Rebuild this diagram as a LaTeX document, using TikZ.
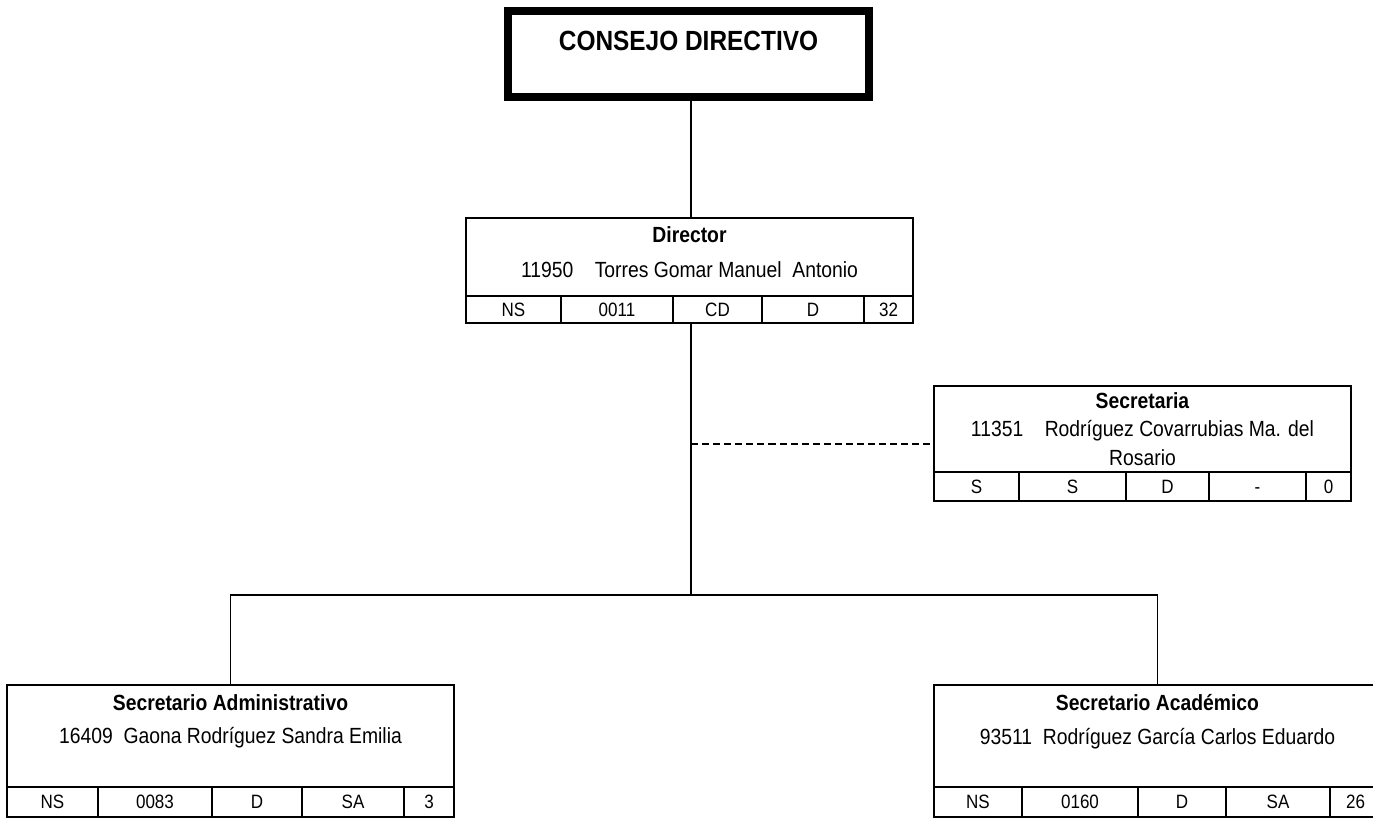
\documentclass[tikz,border=0pt]{standalone}
\usepackage{fontspec}
\setmainfont{Liberation Sans}[FakeStretch=0.88]
\usetikzlibrary{positioning}
\newcommand{\pxu}{0.02cm}

\tikzset{
  linea/.style={line width=1.1pt},
  consejo/.style={draw, line width=4pt, inner sep=0pt, minimum width=361*\pxu,
    minimum height=86*\pxu, font=\fontsize{15.8}{20}\selectfont\bfseries, text depth=15.5pt},
  puesto/.style 2 args={draw, linea, align=center, inner sep=0pt, outer sep=0pt,
    anchor=north west, minimum width=#1*\pxu, minimum height=#2*\pxu,
    font=\fontsize{12.5}{20.4}\selectfont},
  celda/.style 2 args={draw, linea, inner sep=0pt, outer sep=0pt,
    minimum width=#1*\pxu, minimum height=#2*\pxu,
    font=\fontsize{11}{12}\selectfont, text height=7.9pt, text depth=0pt}
}

\begin{document}
\begin{tikzpicture}[x=0.02cm, y=-0.02cm]
\clip (0,0) rectangle (1373,821);

% Consejo Directivo
\node[consejo] (consejo) at (688.5,54) {CONSEJO DIRECTIVO};

% Director
\node[puesto={447}{78}, text depth=5.6pt] (dir) at (466,218)
  {\textbf{Director}\\11950\ \ \ \ Torres Gomar Manuel\ \ Antonio};
\node[celda={95}{27}, below right=0pt of dir.south west] (dir1) {NS};
\node[celda={112}{27}, right=0pt of dir1] (dir2) {0011};
\node[celda={89}{27}, right=0pt of dir2] (dir3) {CD};
\node[celda={102}{27}, right=0pt of dir3] (dir4) {D};
\node[celda={49}{27}, right=0pt of dir4] (dir5) {32};

% Secretaria
\node[puesto={417}{86}, font=\fontsize{12.5}{16.2}\selectfont, text depth=0pt] (sec) at (934,386)
  {\textbf{Secretaria}\\11351\ \ \ \ Rodríguez Covarrubias Ma. del\\Rosario};
\node[celda={85}{29}, below right=0pt of sec.south west] (sec1) {S};
\node[celda={107}{29}, right=0pt of sec1] (sec2) {S};
\node[celda={83}{29}, right=0pt of sec2] (sec3) {D};
\node[celda={97}{29}, right=0pt of sec3] (sec4) {-};
\node[celda={45}{29}, right=0pt of sec4] (sec5) {0};

% Secretario Administrativo
\node[puesto={447}{102}, font=\fontsize{12.5}{19.3}\selectfont, text depth=19.3pt] (adm) at (7,685)
  {\textbf{Secretario Administrativo}\\16409\ \ Gaona Rodríguez Sandra Emilia};
\node[celda={91}{30}, below right=0pt of adm.south west] (adm1) {NS};
\node[celda={114}{30}, right=0pt of adm1] (adm2) {0083};
\node[celda={90}{30}, right=0pt of adm2] (adm3) {D};
\node[celda={102}{30}, right=0pt of adm3] (adm4) {SA};
\node[celda={50}{30}, right=0pt of adm4] (adm5) {3};

% Secretario Academico
\node[puesto={447}{102}, font=\fontsize{12.5}{19.3}\selectfont, text depth=19.3pt] (aca) at (934,685)
  {\textbf{Secretario Académico}\\93511\ \ Rodríguez García Carlos Eduardo};
\node[celda={88}{30}, below right=0pt of aca.south west] (aca1) {NS};
\node[celda={116}{30}, right=0pt of aca1] (aca2) {0160};
\node[celda={88}{30}, right=0pt of aca2] (aca3) {D};
\node[celda={104}{30}, right=0pt of aca3] (aca4) {SA};
\node[celda={51}{30}, right=0pt of aca4] (aca5) {26};

% lineas de mando
\coordinate (rama) at (691,595);
\coordinate (apoyo) at (691,444);
\draw[linea] (consejo.south -| rama) -- (dir.north -| rama);
\draw[linea] (dir3.south -| rama) -- (rama);
\draw[linea] (adm.north) |- (rama) -| (aca.north);
\draw[linea, dash pattern=on 4pt off 2.3pt] (apoyo) -- (apoyo -| sec.west);
\end{tikzpicture}
\end{document}
